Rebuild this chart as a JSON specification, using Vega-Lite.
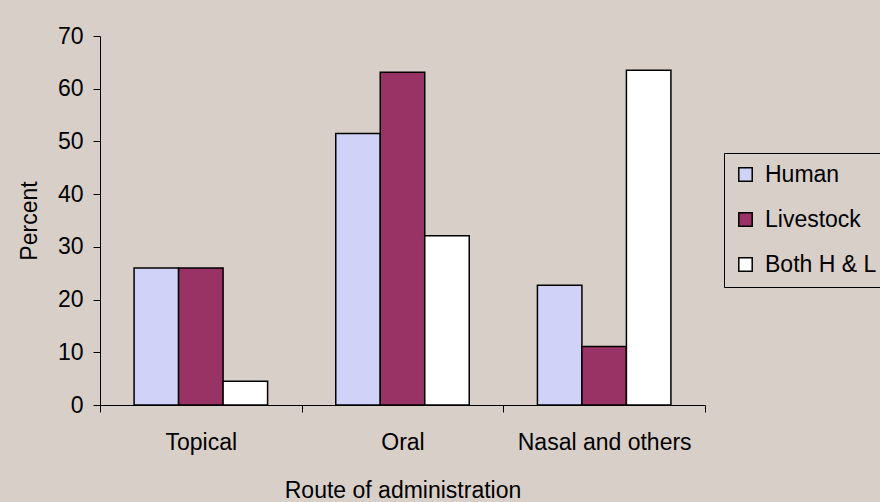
{
  "$schema": "https://vega.github.io/schema/vega-lite/v6.json",
  "width": 605,
  "height": 369,
  "autosize": {"type": "none"},
  "padding": {"left": 100, "top": 36, "right": 175, "bottom": 97},
  "background": "#d8cfc9",
  "config": {"view": {"stroke": null}, "font": "Liberation Sans"},
  "data": {
    "values": [
      {"route": "Topical", "group": "Human", "percent": 26},
      {"route": "Topical", "group": "Livestock", "percent": 26},
      {"route": "Topical", "group": "Both H & L", "percent": 4.5},
      {"route": "Oral", "group": "Human", "percent": 51.5},
      {"route": "Oral", "group": "Livestock", "percent": 63.1},
      {"route": "Oral", "group": "Both H & L", "percent": 32.1},
      {"route": "Nasal and others", "group": "Human", "percent": 22.7},
      {"route": "Nasal and others", "group": "Livestock", "percent": 11.1},
      {"route": "Nasal and others", "group": "Both H & L", "percent": 63.5}
    ]
  },
  "mark": {"type": "bar", "stroke": "black", "strokeWidth": 1.5},
  "encoding": {
    "x": {
      "field": "route",
      "type": "nominal",
      "sort": ["Topical", "Oral", "Nasal and others"],
      "scale": {"paddingInner": 0, "paddingOuter": 0},
      "axis": {
        "title": "Route of administration",
        "labelAngle": 0,
        "labelFontSize": 23,
        "labelColor": "black",
        "labelPadding": 19,
        "labelBaseline": "top",
        "tickBand": "extent",
        "tickSize": 7,
        "tickColor": "black",
        "domainColor": "black",
        "titleFontSize": 23,
        "titleFontWeight": "normal",
        "titleColor": "black",
        "titlePadding": 25
      }
    },
    "xOffset": {
      "field": "group",
      "sort": ["Human", "Livestock", "Both H & L"],
      "scale": {"paddingInner": 0, "paddingOuter": 0.766}
    },
    "y": {
      "field": "percent",
      "type": "quantitative",
      "scale": {"domain": [0, 70]},
      "axis": {
        "title": "Percent",
        "values": [0, 10, 20, 30, 40, 50, 60, 70],
        "grid": false,
        "labelFontSize": 23,
        "labelColor": "black",
        "labelPadding": 10,
        "tickSize": 7,
        "tickColor": "black",
        "domainColor": "black",
        "titleFontSize": 23,
        "titleFontWeight": "normal",
        "titleColor": "black",
        "titlePadding": 16
      }
    },
    "color": {
      "field": "group",
      "type": "nominal",
      "sort": ["Human", "Livestock", "Both H & L"],
      "scale": {"domain": ["Human", "Livestock", "Both H & L"], "range": ["#d0d2f7", "#993366", "#ffffff"]},
      "legend": {
        "title": null,
        "orient": "none",
        "legendX": 624,
        "legendY": 117,
        "strokeColor": "black",
        "padding": 10,
        "symbolType": "square",
        "symbolSize": 180,
        "symbolStrokeColor": "black",
        "symbolStrokeWidth": 1.5,
        "symbolOpacity": 1,
        "labelFontSize": 23,
        "labelColor": "black",
        "rowPadding": 21,
        "labelOffset": 8
      }
    }
  }
}
